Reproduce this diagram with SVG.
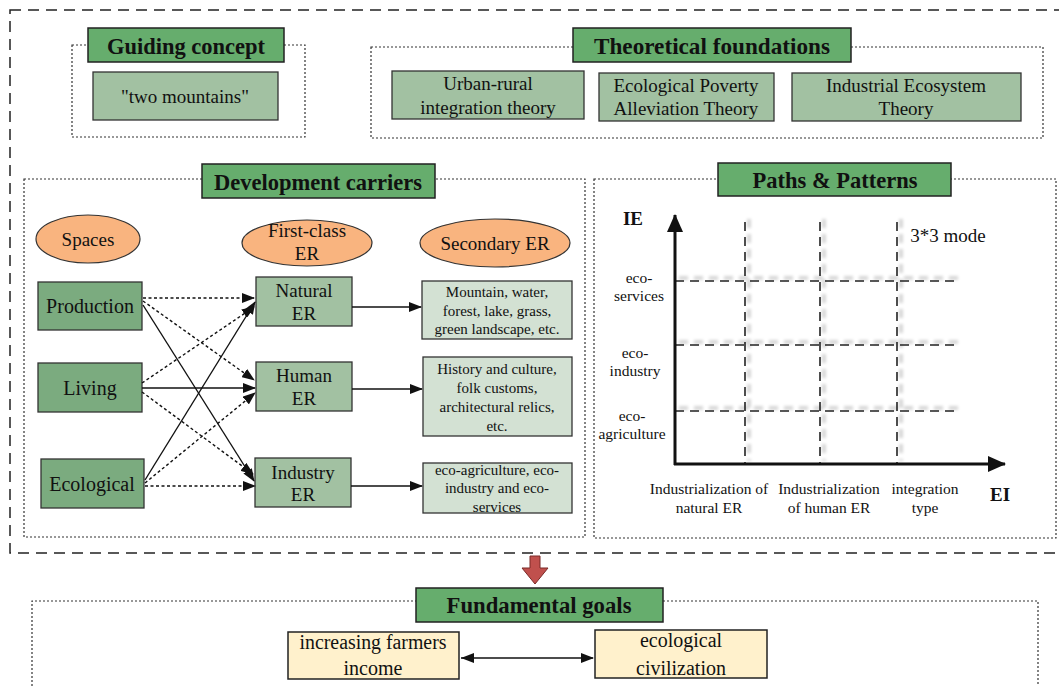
<svg xmlns="http://www.w3.org/2000/svg" width="1059" height="686" viewBox="0 0 1059 686">
<style>
text{font-family:"Liberation Serif","Times New Roman",serif;fill:#111;text-anchor:middle;dominant-baseline:central}
.title{font-weight:bold;font-size:22.5px}
.tbox{fill:#66ad6d;stroke:#222;stroke-width:1.5}
.theory{fill:#a2c1a2;stroke:#333;stroke-width:1.3}
.space{fill:#7bab7f;stroke:#333;stroke-width:1.3}
.er{fill:#a2c1a2;stroke:#333;stroke-width:1.3}
.sec{fill:#d3e1d3;stroke:#333;stroke-width:1.3}
.ell{fill:#f9b47f;stroke:#333;stroke-width:1.2}
.goal{fill:#fff1cc;stroke:#222;stroke-width:1.5}
.dot{fill:none;stroke:#333;stroke-width:1.2;stroke-dasharray:2 2}
.outer{fill:none;stroke:#222;stroke-width:1.5;stroke-dasharray:11 7}
.t19{font-size:19px}
.t20{font-size:20px}
.t15{font-size:15px}
.t155{font-size:15.5px}
.cs{stroke:#111;stroke-width:1.4;fill:none;marker-end:url(#ah)}
.cd{stroke:#111;stroke-width:1.4;fill:none;stroke-dasharray:3 2.5;marker-end:url(#ah)}
.grid{stroke:#222;stroke-width:1.6;stroke-dasharray:9 6;fill:none}
.gridsh{stroke:#bbb;stroke-width:4;stroke-dasharray:9 6;fill:none;filter:url(#blur);opacity:.6}
</style>
<defs>
<marker id="ah" markerWidth="13" markerHeight="10" refX="12" refY="5" orient="auto" markerUnits="userSpaceOnUse"><path d="M0,0 L13,5 L0,10 Z" fill="#111"/></marker>
<marker id="ahs" markerWidth="13" markerHeight="10" refX="0" refY="5" orient="auto" markerUnits="userSpaceOnUse"><path d="M13,0 L0,5 L13,10 Z" fill="#111"/></marker>
<marker id="axh" markerWidth="18" markerHeight="16" refX="17" refY="8" orient="auto" markerUnits="userSpaceOnUse"><path d="M0,0 L18,8 L0,16 Z" fill="#111"/></marker>
<filter id="blur" x="-10%" y="-10%" width="120%" height="120%"><feGaussianBlur stdDeviation="1.8"/></filter>
</defs>

<rect class="outer" x="10" y="10" width="1070" height="543"/>

<g id="guiding">
<rect class="dot" x="72" y="45" width="233" height="92"/>
<rect class="tbox" x="88" y="28" width="196" height="34"/>
<text class="title" x="186" y="46">Guiding concept</text>
<rect class="theory" x="93" y="72" width="185" height="48"/>
<text class="t19" x="185" y="96">"two mountains"</text>
</g>

<g id="theory">
<rect class="dot" x="371" y="47" width="672" height="91"/>
<rect class="tbox" x="573" y="28" width="278" height="34"/>
<text class="title" x="712" y="46" textLength="236" lengthAdjust="spacingAndGlyphs">Theoretical foundations</text>
<rect class="theory" x="392" y="71" width="192" height="48"/>
<text class="t19" x="488" y="83">Urban-rural</text>
<text class="t19" x="488" y="107">integration theory</text>
<rect class="theory" x="599" y="73" width="175" height="48"/>
<text class="t19" x="686" y="85">Ecological Poverty</text>
<text class="t19" x="686" y="108">Alleviation Theory</text>
<rect class="theory" x="792" y="73" width="229" height="48"/>
<text class="t19" x="906" y="85">Industrial Ecosystem</text>
<text class="t19" x="906" y="108">Theory</text>
</g>

<g id="carriers">
<rect class="dot" x="24" y="179" width="561" height="358"/>
<rect class="tbox" x="202" y="164" width="233" height="34"/>
<text class="title" x="318" y="182">Development carriers</text>
</g>

<g id="spaces"><ellipse class="ell" cx="88" cy="239" rx="52" ry="24"/><text class="t19" x="88" y="239">Spaces</text></g>
<g id="firstclass"><ellipse class="ell" cx="307" cy="243" rx="65" ry="23"/><text class="t19" x="307" y="230">First-class</text><text class="t19" x="307" y="253">ER</text></g>
<g id="secondary"><ellipse class="ell" cx="495" cy="243" rx="75" ry="24"/><text class="t19" x="495" y="243">Secondary ER</text></g>

<g id="production"><rect class="space" x="38" y="282" width="104" height="48"/><text class="t20" x="90" y="306">Production</text></g>
<g id="living"><rect class="space" x="38" y="363" width="104" height="49"/><text class="t20" x="90" y="388">Living</text></g>
<g id="ecological"><rect class="space" x="41" y="459" width="103" height="49"/><text class="t20" x="92" y="484">Ecological</text></g>

<g id="natural-er"><rect class="er" x="256" y="277" width="96" height="49"/><text class="t19" x="304" y="290">Natural</text><text class="t19" x="304" y="313">ER</text></g>
<g id="human-er"><rect class="er" x="256" y="362" width="96" height="49"/><text class="t19" x="304" y="375">Human</text><text class="t19" x="304" y="398">ER</text></g>
<g id="industry-er"><rect class="er" x="255" y="458" width="96" height="49"/><text class="t19" x="303" y="472">Industry</text><text class="t19" x="303" y="494">ER</text></g>

<g id="sec-natural"><rect class="sec" x="422" y="281" width="150" height="58"/>
<text class="t15" x="497" y="292">Mountain, water,</text><text class="t15" x="497" y="311">forest, lake, grass,</text><text class="t15" x="497" y="329">green landscape, etc.</text></g>
<g id="sec-human"><rect class="sec" x="423" y="357" width="149" height="79"/>
<text class="t15" x="497" y="369">History and culture,</text><text class="t15" x="497" y="388">folk customs,</text><text class="t15" x="497" y="407">architectural relics,</text><text class="t15" x="497" y="426">etc.</text></g>
<g id="sec-industry"><rect class="sec" x="423" y="463" width="149" height="50"/>
<text class="t15" x="497" y="470">eco-agriculture, eco-</text><text class="t15" x="497" y="488">industry and eco-</text><text class="t15" x="497" y="507">services</text></g>

<g id="connectors">
<line class="cd" x1="143" y1="298" x2="254" y2="298"/>
<line class="cd" x1="143" y1="301" x2="254" y2="380"/>
<line class="cs" x1="143" y1="305" x2="254" y2="481"/>
<line class="cd" x1="142" y1="383" x2="254" y2="307"/>
<line class="cs" x1="142" y1="388" x2="255" y2="388"/>
<line class="cd" x1="142" y1="392" x2="253" y2="474"/>
<line class="cs" x1="145" y1="480" x2="255" y2="302"/>
<line class="cd" x1="145" y1="483" x2="255" y2="393"/>
<line class="cd" x1="145" y1="486" x2="255" y2="486"/>
<line class="cs" x1="352" y1="307" x2="421" y2="307"/>
<line class="cs" x1="352" y1="389" x2="422" y2="389"/>
<line class="cs" x1="351" y1="486" x2="422" y2="486"/>
<path d="M530,556 H540 V568 H548 L535,584 L522,568 H530 Z" fill="#c0504d" stroke="#7a2a28" stroke-width="1"/>
<line x1="461" y1="658" x2="593" y2="658" stroke="#111" stroke-width="1.4" marker-start="url(#ahs)" marker-end="url(#ah)"/>
</g>

<g id="paths">
<rect class="dot" x="594" y="179" width="462" height="359"/>
<rect class="tbox" x="718" y="163" width="233" height="33"/>
<text class="title" x="835" y="180">Paths &amp; Patterns</text>
<g transform="translate(4,-3)">
<path class="gridsh" d="M675,281 H960 M675,345 H960 M675,411 H960 M745,222 V464 M820,222 V464 M897,222 V464"/>
</g>
<path class="grid" d="M675,281 H960 M675,345 H960 M675,411 H960 M745,222 V464 M820,222 V464 M897,222 V464"/>
<line x1="675" y1="465" x2="675" y2="215" stroke="#111" stroke-width="3" marker-end="url(#axh)"/>
<line x1="674" y1="464" x2="1005" y2="464" stroke="#111" stroke-width="3" marker-end="url(#axh)"/>
<text x="633" y="218" font-size="19" font-weight="bold">IE</text>
<text x="1000" y="494" font-size="19" font-weight="bold">EI</text>
<text x="948" y="235" font-size="19">3*3 mode</text>
<text class="t155" x="639" y="277">eco-</text><text class="t155" x="639" y="295">services</text>
<text class="t155" x="635" y="352">eco-</text><text class="t155" x="635" y="370">industry</text>
<text class="t155" x="632" y="415">eco-</text><text class="t155" x="632" y="433">agriculture</text>
<text class="t155" x="709" y="488">Industrialization of</text><text class="t155" x="709" y="507">natural ER</text>
<text class="t155" x="829" y="488">Industrialization</text><text class="t155" x="829" y="507">of human ER</text>
<text class="t155" x="925" y="488">integration</text><text class="t155" x="925" y="507">type</text>
</g>

<g id="goals">
<path class="dot" d="M32,690 V601 H1038 V690"/>
<rect class="tbox" x="416" y="588" width="247" height="34"/>
<text class="title" x="539" y="605" textLength="185" lengthAdjust="spacingAndGlyphs">Fundamental goals</text>
</g>
<g id="farmers-income"><rect class="goal" x="288" y="632" width="171" height="47"/>
<text class="t20" x="373" y="642" textLength="147" lengthAdjust="spacingAndGlyphs">increasing farmers</text><text class="t20" x="373" y="668">income</text></g>
<g id="eco-civ"><rect class="goal" x="595" y="630" width="172" height="48"/>
<text class="t20" x="681" y="640">ecological</text><text class="t20" x="681" y="668">civilization</text></g>
</svg>
